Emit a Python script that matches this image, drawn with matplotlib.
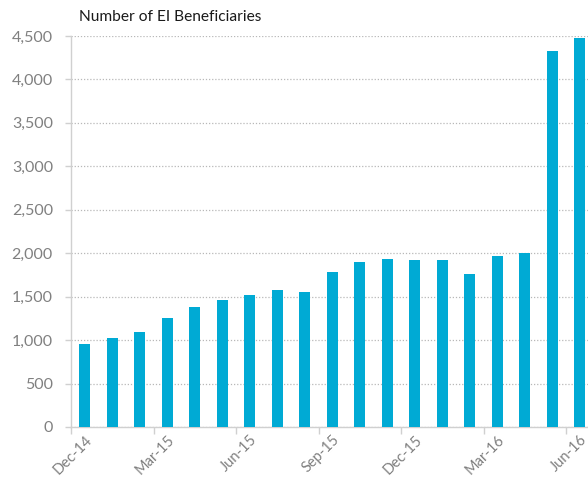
"""Bar chart: monthly number of EI beneficiaries, Dec-14 to Jun-16."""

import matplotlib

matplotlib.use("Agg")
import matplotlib.pyplot as plt
from matplotlib.ticker import FuncFormatter, MultipleLocator

# --- data ---
MONTHS = [
    "Dec-14", "Jan-15", "Feb-15", "Mar-15", "Apr-15", "May-15", "Jun-15",
    "Jul-15", "Aug-15", "Sep-15", "Oct-15", "Nov-15", "Dec-15", "Jan-16",
    "Feb-16", "Mar-16", "Apr-16", "May-16", "Jun-16",
]
BENEFICIARIES = [
    952, 1028, 1097, 1251, 1381, 1461, 1519, 1573, 1550, 1787,
    1900, 1929, 1921, 1921, 1764, 1964, 2006, 4325, 4482,
]
LABELLED = ["Dec-14", "Mar-15", "Jun-15", "Sep-15", "Dec-15", "Mar-16", "Jun-16"]

# --- style ---
BAR_COLOR = "#00aad4"
GRID_COLOR = "#b8b8b8"
AXIS_COLOR = "#d0d0d0"
TICK_TEXT = "#808080"
FONT = ["Lato", "DejaVu Sans"]

plt.rcParams["font.family"] = FONT

fig = plt.figure(figsize=(5.88, 4.8), dpi=100)
ax = fig.add_axes([71 / 588, 1 - 427 / 480, 1 - 71 / 588, (427 - 36) / 480])

x = list(range(len(MONTHS)))
ax.bar(x, BENEFICIARIES, width=0.4, color=BAR_COLOR, zorder=3)

ax.set_xlim(-0.5, 18.3)
ax.set_ylim(0, 4500)
ax.yaxis.set_major_locator(MultipleLocator(500))
ax.yaxis.set_major_formatter(FuncFormatter(lambda v, _: f"{v:,.0f}"))
ax.grid(axis="y", linestyle=(0, (1, 1.5)), color=GRID_COLOR, linewidth=0.9, zorder=0)

label_pos = [MONTHS.index(m) for m in LABELLED]
ax.set_xticks(label_pos)
ax.set_xticklabels(LABELLED, rotation=45, ha="right", rotation_mode="anchor")
ax.set_xticks([p - 0.5 for p in label_pos], minor=True)
ax.tick_params(axis="x", which="major", length=0, pad=4, labelsize=10.5,
               labelcolor=TICK_TEXT)
ax.tick_params(axis="x", which="minor", length=5, width=1, color=AXIS_COLOR)
ax.tick_params(axis="y", length=4, width=1, color=AXIS_COLOR, pad=9,
               labelsize=11.5, labelcolor=TICK_TEXT)

for side in ("top", "right"):
    ax.spines[side].set_visible(False)
for side in ("left", "bottom"):
    ax.spines[side].set_color(AXIS_COLOR)
    ax.spines[side].set_linewidth(1)

fig.text(79 / 588, 1 - 17 / 480, "Number of EI Beneficiaries", fontsize=11.2,
         color="#1a1a1a", va="center", ha="left")

fig.savefig("out.png", dpi=100, facecolor="white")
